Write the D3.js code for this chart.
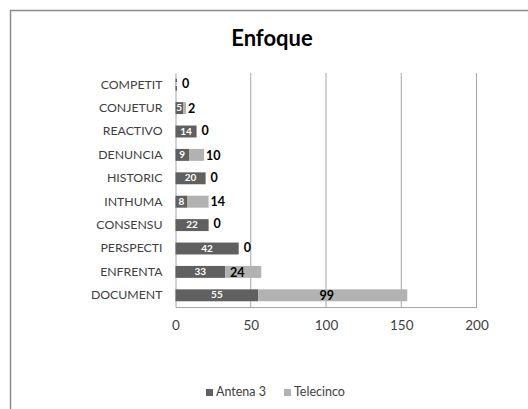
<!DOCTYPE html>
<html><head><meta charset="utf-8">
<script src="https://cdn.jsdelivr.net/npm/d3@7"></script>
<style>body{margin:0;background:#fff;}svg{display:block;font-family:Lato,"Open Sans",sans-serif;}</style>
</head><body>
<svg id="c" width="528" height="409"></svg>
<script>
const categories = ["COMPETIT","CONJETUR","REACTIVO","DENUNCIA","HISTORIC","INTHUMA","CONSENSU","PERSPECTI","ENFRENTA","DOCUMENT"];
const antena3 = [1,5,14,9,20,8,22,42,33,55];
const telecinco = [0,2,0,10,0,14,0,0,24,99];
const seriesNames = ["Antena 3","Telecinco"];
const xTicks = [0,50,100,150,200];
const title = "Enfoque";

const svg = d3.select("#c");
svg.append("rect").attr("x",10.5).attr("y",10.5).attr("width",540).attr("height",420)
  .attr("fill","#fff").attr("stroke","#8c8c8c").attr("stroke-width",1.5);

const L=175.5, R=476.5, T=73, B=307;
const x = d3.scaleLinear().domain([0,200]).range([L,R]);
const y = d3.scaleBand().domain(categories).range([T,B]).paddingInner(0.49).paddingOuter(0.245);

svg.append("text").attr("x",272).attr("y",46).attr("text-anchor","middle")
  .attr("font-size",22).attr("font-weight","bold").attr("fill","#000").text(title);

// gridlines
svg.append("g").selectAll("line").data(xTicks.slice(1)).join("line")
  .attr("x1",d=>x(d)).attr("x2",d=>x(d)).attr("y1",T).attr("y2",B)
  .attr("stroke","#a6a6a6").attr("stroke-width",1);

// x axis
const xa = svg.append("g").attr("transform",`translate(0,${B})`)
  .call(d3.axisBottom(x).tickValues(xTicks).tickSize(0).tickPadding(13));
xa.select(".domain").attr("stroke","#a6a6a6");
xa.selectAll("text").attr("font-size",13.5).attr("fill","#404040").attr("font-family","Lato,'Open Sans',sans-serif");

// y axis
const ya = svg.append("g").attr("transform",`translate(${L},0)`)
  .call(d3.axisLeft(y).tickSize(0).tickPadding(13));
ya.select(".domain").attr("stroke","#a6a6a6");
ya.selectAll("text").attr("font-size",12.3).attr("fill","#404040").attr("font-family","Lato,'Open Sans',sans-serif");

const rows = categories.map((c,i)=>({c,a:antena3[i],t:telecinco[i]}));
const g = svg.append("g");
g.selectAll(".a").data(rows).join("rect")
  .attr("x",x(0)).attr("y",d=>y(d.c)).attr("width",d=>x(d.a)-x(0)).attr("height",y.bandwidth())
  .attr("fill","#606060");
g.selectAll(".t").data(rows).join("rect")
  .attr("x",d=>x(d.a)).attr("y",d=>y(d.c)).attr("width",d=>x(d.a+d.t)-x(d.a)).attr("height",y.bandwidth())
  .attr("fill","#b2b2b2");

// labels antena
g.selectAll(".la").data(rows).join("text")
  .attr("x",d=>(x(0)+x(d.a))/2).attr("y",d=>y(d.c)+y.bandwidth()/2+0.5)
  .attr("dominant-baseline","middle").attr("text-anchor","middle")
  .attr("font-size",d=>d.a<3?5:10).attr("font-weight","bold").attr("fill","#fff")
  .text(d=>d.a);

// labels telecinco
g.selectAll(".lt").data(rows).join("text")
  .each(function(d){
    const w = x(d.a+d.t)-x(d.a);
    const s = d3.select(this);
    if (w>30) s.attr("x",x(d.a)+w/2-6).attr("text-anchor","middle");
    else s.attr("x",x(d.a+d.t)+2+(d.t===0?3:0)).attr("text-anchor","start");
  })
  .attr("y",d=>y(d.c)+y.bandwidth()/2+(d.t===0?0:1.5))
  .attr("dominant-baseline","middle")
  .attr("font-size",12.5).attr("font-weight","bold").attr("fill","#000")
  .text(d=>d.t);

// legend
const leg = svg.append("g").attr("transform","translate(206,393)");
const colors=["#606060","#b2b2b2"];
const offs=[0,78];
seriesNames.forEach((n,i)=>{
  leg.append("rect").attr("x",offs[i]).attr("y",-4).attr("width",7).attr("height",7).attr("fill",colors[i]);
  leg.append("text").attr("x",offs[i]+10).attr("y",0).attr("dominant-baseline","middle")
    .attr("font-size",12.5).attr("fill","#404040").text(n);
});
</script>
</body></html>
